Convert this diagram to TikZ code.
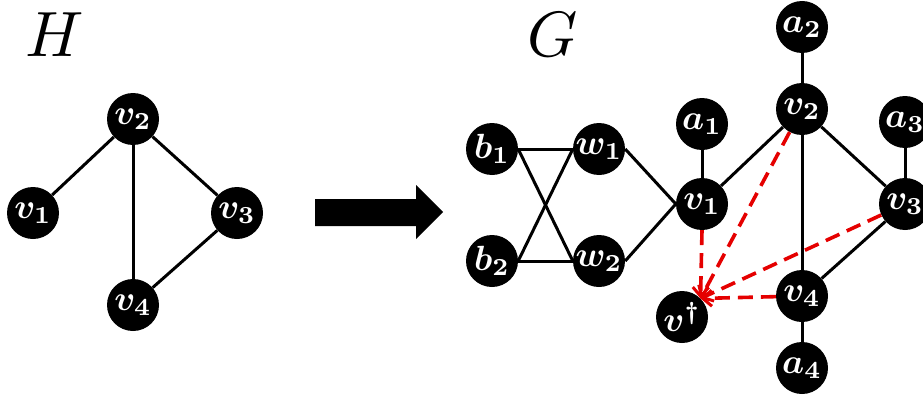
\documentclass[tikz,border=0pt]{standalone}
\usetikzlibrary{arrows.meta}
\newcommand{\vlab}[1]{\scalebox{3.5}{\boldmath$#1$}}
\newcommand{\biglab}[1]{\scalebox{6.4}{$#1$}}
\begin{document}
\begin{tikzpicture}[x=1pt,y=-1pt,
  vtx/.style={circle,fill=black,draw=none,minimum size=52pt,inner sep=0pt,text=white},
  edge/.style={line width=3pt,black},
  redge/.style={line width=3.6pt,red!90!black,dash pattern=on 15pt off 8pt,-{Straight Barb[length=9pt,width=16pt,line width=3pt]}},
  biglabel/.style={inner sep=0pt}]
\useasboundingbox (0,0) rectangle (923,396);
% labels
\node[biglabel] (H) at (55,35) {\biglab{H}};
\node[biglabel] (G) at (553,35) {\biglab{G}};
% H graph
\node[vtx] (hv2) at (133,119) {\vlab{v_2}};
\node[vtx] (hv1) at (33,213) {\vlab{v_1}};
\node[vtx] (hv3) at (237,213) {\vlab{v_3}};
\node[vtx] (hv4) at (133,305) {\vlab{v_4}};
\draw[edge] (hv2) -- (hv1);
\draw[edge] (hv2) -- (hv3);
\draw[edge] (hv2) -- (hv4);
\draw[edge] (hv3) -- (hv4);
% big arrow
\fill[black] (315,199) -- (416,199) -- (416,185) -- (443,212) -- (416,239) -- (416,226) -- (315,226) -- cycle;
% G graph
\node[vtx] (b1) at (492,149) {\vlab{b_1}};
\node[vtx] (w1) at (599,149) {\vlab{w_1}};
\node[vtx] (b2) at (492,261) {\vlab{b_2}};
\node[vtx] (w2) at (599,261) {\vlab{w_2}};
\node[vtx] (v1) at (702,204) {\vlab{v_1}};
\node[vtx] (a1) at (702,124) {\vlab{a_1}};
\node[vtx] (v2) at (802,109) {\vlab{v_2}};
\node[vtx] (a2) at (802,27) {\vlab{a_2}};
\node[vtx] (a3) at (905,122) {\vlab{a_3}};
\node[vtx] (v3) at (905,204) {\vlab{v_3}};
\node[vtx] (v4) at (802,296) {\vlab{v_4}};
\node[vtx] (a4) at (802,368) {\vlab{a_4}};
\node[vtx] (vd) at (682,317) {\vlab{v^{\dagger}}};
\coordinate (tip) at (vd.45);
\draw[edge] (b1.east) -- (w1.west);
\draw[edge] (b1.east) -- (w2.west);
\draw[edge] (b2.east) -- (w1.west);
\draw[edge] (b2.east) -- (w2.west);
\draw[edge] (w1.east) -- (v1.west);
\draw[edge] (w2.east) -- (v1.west);
\draw[edge] (v1) -- (a1);
\draw[edge] (v1) -- (v2);
\draw[edge] (v2) -- (a2);
\draw[edge] (v2) -- (v3);
\draw[edge] (v2) -- (v4);
\draw[edge] (v3) -- (a3);
\draw[edge] (v3) -- (v4);
\draw[edge] (v4) -- (a4);
% red dashed arrows
\draw[redge] (v1.south) -- (tip);
\draw[redge] (v2) -- (tip);
\draw[redge] (v3) -- (tip);
\draw[redge] (v4) -- (tip);
\end{tikzpicture}
\end{document}
